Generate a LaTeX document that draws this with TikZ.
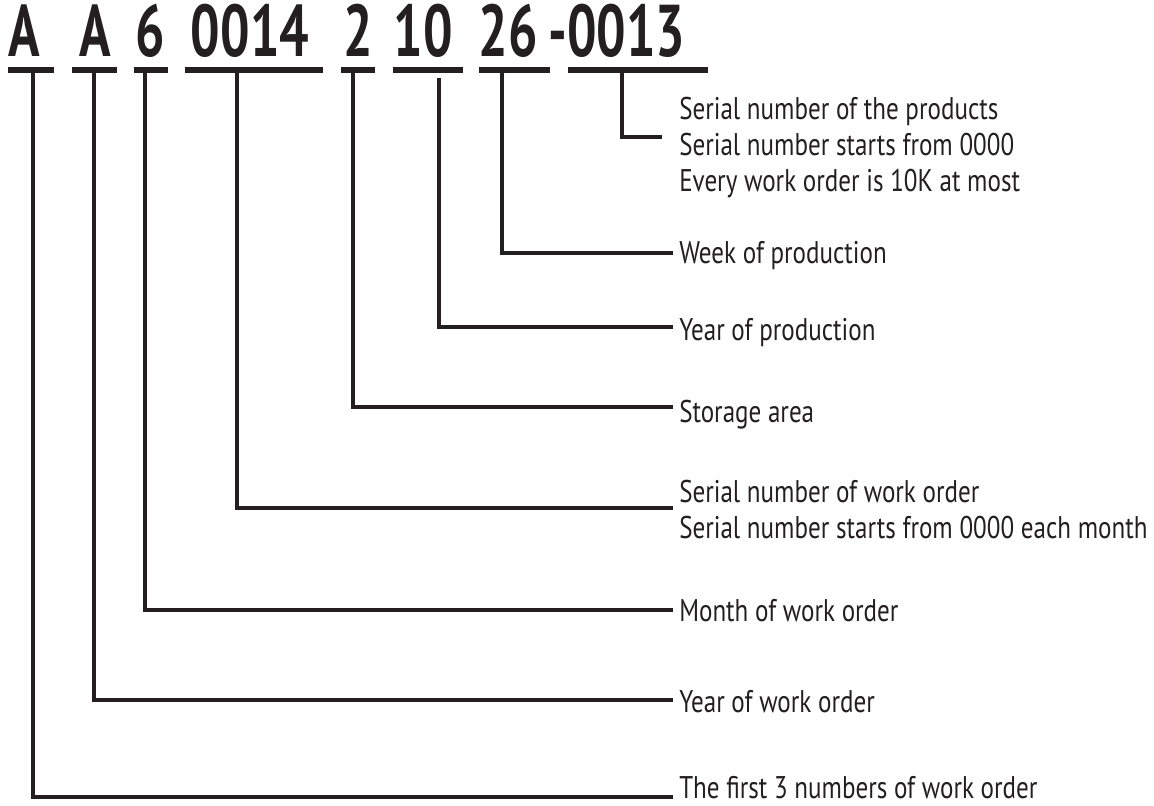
\documentclass[tikz,border=0pt]{standalone}
\usepackage{fontspec}
\setmainfont{PT Sans}[FakeStretch=0.80]
\newfontfamily\titlefont{PT Sans}[FakeStretch=0.71]
\definecolor{ink}{HTML}{231F20}
\begin{document}
\begin{tikzpicture}[x=0.75pt,y=-0.75pt,
  part/.style={inner sep=0pt,anchor=base,font=\titlefont\fontsize{55}{58}\selectfont\bfseries,text=ink},
  uline/.style={draw=ink,line width=4.5pt},
  conn/.style={draw=ink,line width=3pt},
  lbl/.style={inner sep=0pt,anchor=base west,align=left,font=\fontsize{23.5}{27}\selectfont,text=ink}]
\useasboundingbox (0,0) rectangle (1154,806);
% title parts
\node[part] (p1) at (24.5,57) {A};
\node[part] (p2) at (95,57) {A};
\node[part] (p3) at (150.5,57) {6};
\node[part] (p4) at (250,57) {0014};
\node[part] (p5) at (358,57) {2};
\node[part] (p6) at (423.5,57) {10};
\node[part] (p7) at (508.5,57) {26};
\node[part] (p8) at (617,57) {-0013};
% underlines
\draw[uline] (8,70) -- (54,70);
\draw[uline] (72,70) -- (117,70);
\draw[uline] (134,70) -- (168,70);
\draw[uline] (185,70) -- (323,70);
\draw[uline] (341,70) -- (375,70);
\draw[uline] (393,70) -- (463,70);
\draw[uline] (479,70) -- (550,70);
\draw[uline] (568,70) -- (708,70);
% connector starts
\coordinate (u1) at (33,72);
\coordinate (u2) at (94,72);
\coordinate (u3) at (145,72);
\coordinate (u4) at (237,72);
\coordinate (u5) at (353,72);
\coordinate (u6) at (439,78);
\coordinate (u7) at (502,72);
\coordinate (u8) at (622,72);
% labels (base = baseline of last line)
\node[lbl] (l8) at (679,192) {Serial number of the products\\Serial number starts from 0000\\Every work order is 10K at most};
\node[lbl] (l7) at (679,263) {Week of production};
\node[lbl] (l6) at (679,340) {Year of production};
\node[lbl] (l5) at (679,422) {Storage area};
\node[lbl] (l4) at (679,538) {Serial number of work order\\Serial number starts from 0000 each month};
\node[lbl] (l3) at (679,621) {Month of work order};
\node[lbl] (l2) at (679,712) {Year of work order};
\node[lbl] (l1) at (679,798) {The first 3 numbers of work order};
% connector ends
\coordinate (e8) at (662,137);
\coordinate (e7) at (673,253);
\coordinate (e6) at (673,327);
\coordinate (e5) at (673,407);
\coordinate (e4) at (673,508);
\coordinate (e3) at (673,610);
\coordinate (e2) at (673,700);
\coordinate (e1) at (673,797);
\draw[conn] (u8) |- (e8);
\draw[conn] (u7) |- (e7);
\draw[conn] (u6) |- (e6);
\draw[conn] (u5) |- (e5);
\draw[conn] (u4) |- (e4);
\draw[conn] (u3) |- (e3);
\draw[conn] (u2) |- (e2);
\draw[conn] (u1) |- (e1);
\end{tikzpicture}
\end{document}
